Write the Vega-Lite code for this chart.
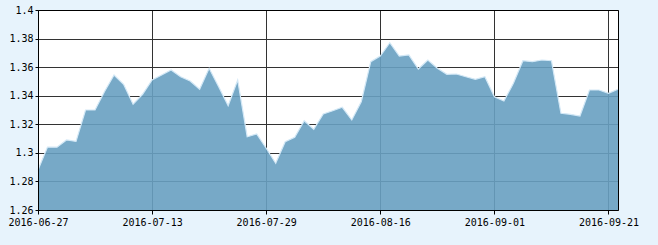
{
  "$schema": "https://vega.github.io/schema/vega-lite/v6.json",
  "width": 580,
  "height": 200,
  "autosize": {"type": "none"},
  "padding": {"left": 38, "top": 10, "right": 40, "bottom": 35},
  "background": "#e7f3fc",
  "data": {"values": [
    {"d": "2016-06-27", "v": 1.288}, {"d": "2016-06-28", "v": 1.304}, {"d": "2016-06-29", "v": 1.304},
    {"d": "2016-06-30", "v": 1.309}, {"d": "2016-07-01", "v": 1.308}, {"d": "2016-07-04", "v": 1.330},
    {"d": "2016-07-05", "v": 1.330}, {"d": "2016-07-06", "v": 1.343}, {"d": "2016-07-07", "v": 1.3545},
    {"d": "2016-07-08", "v": 1.348}, {"d": "2016-07-11", "v": 1.334}, {"d": "2016-07-12", "v": 1.341},
    {"d": "2016-07-13", "v": 1.351}, {"d": "2016-07-14", "v": 1.3545}, {"d": "2016-07-15", "v": 1.358},
    {"d": "2016-07-18", "v": 1.3533}, {"d": "2016-07-19", "v": 1.3503}, {"d": "2016-07-20", "v": 1.3445},
    {"d": "2016-07-21", "v": 1.3592}, {"d": "2016-07-22", "v": 1.3463}, {"d": "2016-07-25", "v": 1.333},
    {"d": "2016-07-26", "v": 1.351}, {"d": "2016-07-27", "v": 1.3113}, {"d": "2016-07-28", "v": 1.3132},
    {"d": "2016-07-29", "v": 1.3032}, {"d": "2016-08-01", "v": 1.2927}, {"d": "2016-08-02", "v": 1.3078},
    {"d": "2016-08-03", "v": 1.3109}, {"d": "2016-08-04", "v": 1.3225}, {"d": "2016-08-05", "v": 1.3165},
    {"d": "2016-08-08", "v": 1.3272}, {"d": "2016-08-09", "v": 1.3295}, {"d": "2016-08-10", "v": 1.3319},
    {"d": "2016-08-11", "v": 1.323}, {"d": "2016-08-12", "v": 1.3358}, {"d": "2016-08-15", "v": 1.3638},
    {"d": "2016-08-16", "v": 1.3678}, {"d": "2016-08-17", "v": 1.3771}, {"d": "2016-08-18", "v": 1.3678},
    {"d": "2016-08-19", "v": 1.3685}, {"d": "2016-08-22", "v": 1.3587}, {"d": "2016-08-23", "v": 1.365},
    {"d": "2016-08-24", "v": 1.3592}, {"d": "2016-08-25", "v": 1.355}, {"d": "2016-08-26", "v": 1.3552},
    {"d": "2016-08-29", "v": 1.3533}, {"d": "2016-08-30", "v": 1.3515}, {"d": "2016-08-31", "v": 1.3533},
    {"d": "2016-09-01", "v": 1.3393}, {"d": "2016-09-02", "v": 1.3363}, {"d": "2016-09-05", "v": 1.3487},
    {"d": "2016-09-06", "v": 1.3645}, {"d": "2016-09-07", "v": 1.3638}, {"d": "2016-09-08", "v": 1.365},
    {"d": "2016-09-09", "v": 1.3645}, {"d": "2016-09-12", "v": 1.3277}, {"d": "2016-09-13", "v": 1.327},
    {"d": "2016-09-14", "v": 1.3258}, {"d": "2016-09-19", "v": 1.344}, {"d": "2016-09-20", "v": 1.344},
    {"d": "2016-09-21", "v": 1.3417}, {"d": "2016-09-22", "v": 1.3445}
  ]},
  "encoding": {
    "x": {
      "field": "d", "type": "ordinal", "sort": null,
      "scale": {"type": "point", "padding": 0},
      "axis": {
        "values": ["2016-06-27", "2016-07-13", "2016-07-29", "2016-08-16", "2016-09-01", "2016-09-21"],
        "labelAngle": 0, "title": null, "grid": true, "tickSize": 4
      }
    },
    "y": {
      "field": "v", "type": "quantitative",
      "scale": {"domain": [1.26, 1.4], "nice": false, "zero": false},
      "axis": {
        "values": [1.26, 1.28, 1.3, 1.32, 1.34, 1.36, 1.38, 1.4],
        "labelExpr": "format(datum.value, '.2~f')",
        "title": null, "grid": true, "tickSize": 3, "labelPadding": 2
      }
    }
  },
  "layer": [
    {
      "mark": {"type": "area", "color": "#68a0c1", "opacity": 0.9},
      "encoding": {"y2": {"datum": 1.26}}
    },
    {
      "mark": {"type": "line", "color": "#d3e8f6", "strokeWidth": 1.2},
      "encoding": {}
    }
  ],
  "config": {
    "view": {"stroke": "#000", "strokeWidth": 1, "fill": "#ffffff"},
    "style": {"cell": {"strokeForeground": true}},
    "axis": {
      "gridColor": "#333333", "gridOpacity": 1, "gridWidth": 1,
      "domain": false, "tickColor": "#000000", "tickWidth": 1,
      "labelFont": "DejaVu Sans Mono", "labelFontSize": 10, "labelColor": "#000000",
      "labelPadding": 3
    }
  }
}
